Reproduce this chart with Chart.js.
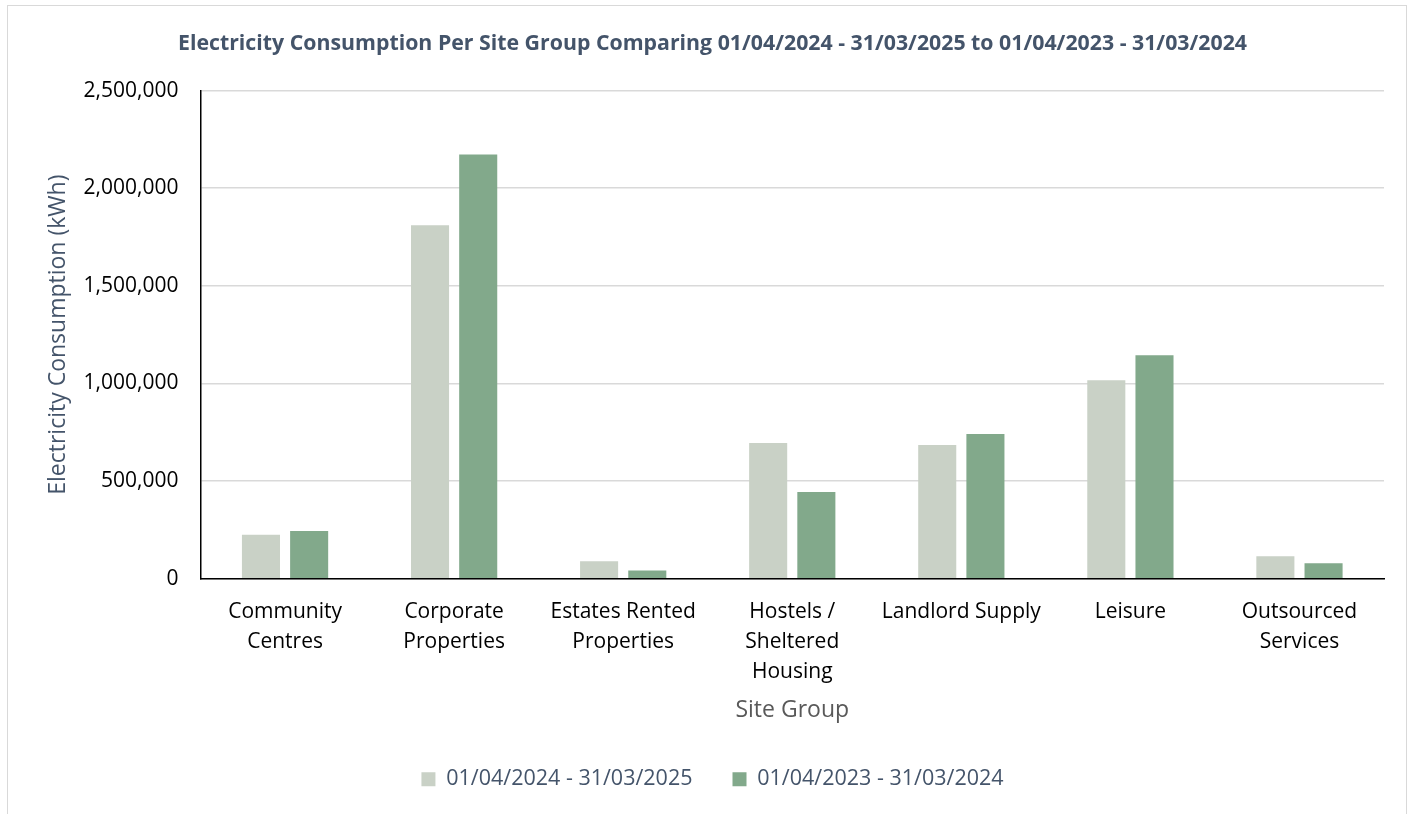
<!DOCTYPE html>
<html lang="en">
  <head>
    <meta charset="UTF-8" />
    <title>Electricity Consumption Per Site Group</title>
    <script src="https://cdn.jsdelivr.net/npm/chart.js@4.4.0/dist/chart.umd.min.js"></script>
    <style>
      html, body { margin: 0; padding: 0; background: #fff; }
      #wrap {
        position: absolute;
        left: 7px;
        top: 5px;
        width: 1400px;
        height: 820px;
        border: 1px solid #d9d9d9;
        box-sizing: border-box;
      }
      #chart { position: absolute; left: -7px; top: -5px; }
    </style>
  </head>
  <body>
    <div id="wrap">
      <canvas id="chart" width="1421" height="814"></canvas>
    </div>

    <script>
      const siteGroups = [
        ['Community', 'Centres'],
        ['Corporate', 'Properties'],
        ['Estates Rented', 'Properties'],
        ['Hostels /', 'Sheltered', 'Housing'],
        'Landlord Supply',
        'Leisure',
        ['Outsourced', 'Services'],
      ]

      const consumption2024to2025 = [225000, 1810000, 90000, 695000, 685000, 1017000, 116000]
      const consumption2023to2024 = [245000, 2173000, 43000, 445000, 741000, 1145000, 80000]

      const COLORS = {
        light: '#c9d1c6',
        dark: '#82a98b',
        slate: '#44546a',
        grid: '#d9d9d9',
      }

      const FONT = '"Open Sans", sans-serif'

      const ctx = document.getElementById('chart').getContext('2d')

      new Chart(ctx, {
        type: 'bar',
        data: {
          labels: siteGroups,
          datasets: [
            {
              label: '01/04/2024 - 31/03/2025',
              data: consumption2024to2025,
              backgroundColor: COLORS.light,
            },
            {
              label: '01/04/2023 - 31/03/2024',
              data: consumption2023to2024,
              backgroundColor: COLORS.dark,
            },
          ],
        },
        options: {
          responsive: false,
          animation: false,
          categoryPercentage: 0.57,
          barPercentage: 0.79,
          layout: {
            padding: { left: 40, right: 38, top: 14, bottom: 15 },
          },
          plugins: {
            title: {
              display: true,
              text: 'Electricity Consumption Per Site Group Comparing 01/04/2024 - 31/03/2025 to 01/04/2023 - 31/03/2024',
              color: COLORS.slate,
              font: { family: FONT, size: 21.3, weight: 'bold' },
              padding: { top: 16, bottom: 34 },
            },
            legend: {
              position: 'bottom',
              labels: {
                color: COLORS.slate,
                font: { family: FONT, size: 21.5 },
                boxWidth: 14,
                boxHeight: 14,
                padding: 40,
              },
            },
            tooltip: { enabled: false },
          },
          scales: {
            x: {
              grid: { display: false },
              border: { color: '#000', width: 1.5 },
              ticks: {
                color: '#000',
                font: { family: FONT, size: 21, lineHeight: 1.43 },
                maxRotation: 0,
                padding: 10,
              },
              title: {
                display: true,
                text: 'Site Group',
                color: '#595959',
                font: { family: FONT, size: 23 },
                padding: { top: 0 },
              },
            },
            y: {
              min: 0,
              max: 2500000,
              grid: { color: COLORS.grid, lineWidth: 1.5, drawTicks: false },
              border: { color: '#000', width: 1.5 },
              ticks: {
                stepSize: 500000,
                color: '#000',
                font: { family: FONT, size: 21 },
                padding: 22,
                callback: (v) => v.toLocaleString('en-GB'),
              },
              title: {
                display: true,
                text: 'Electricity Consumption (kWh)',
                color: COLORS.slate,
                font: { family: FONT, size: 23 },
                padding: { top: 4, bottom: -11 },
              },
            },
          },
        },
      })
    </script>
  </body>
</html>
